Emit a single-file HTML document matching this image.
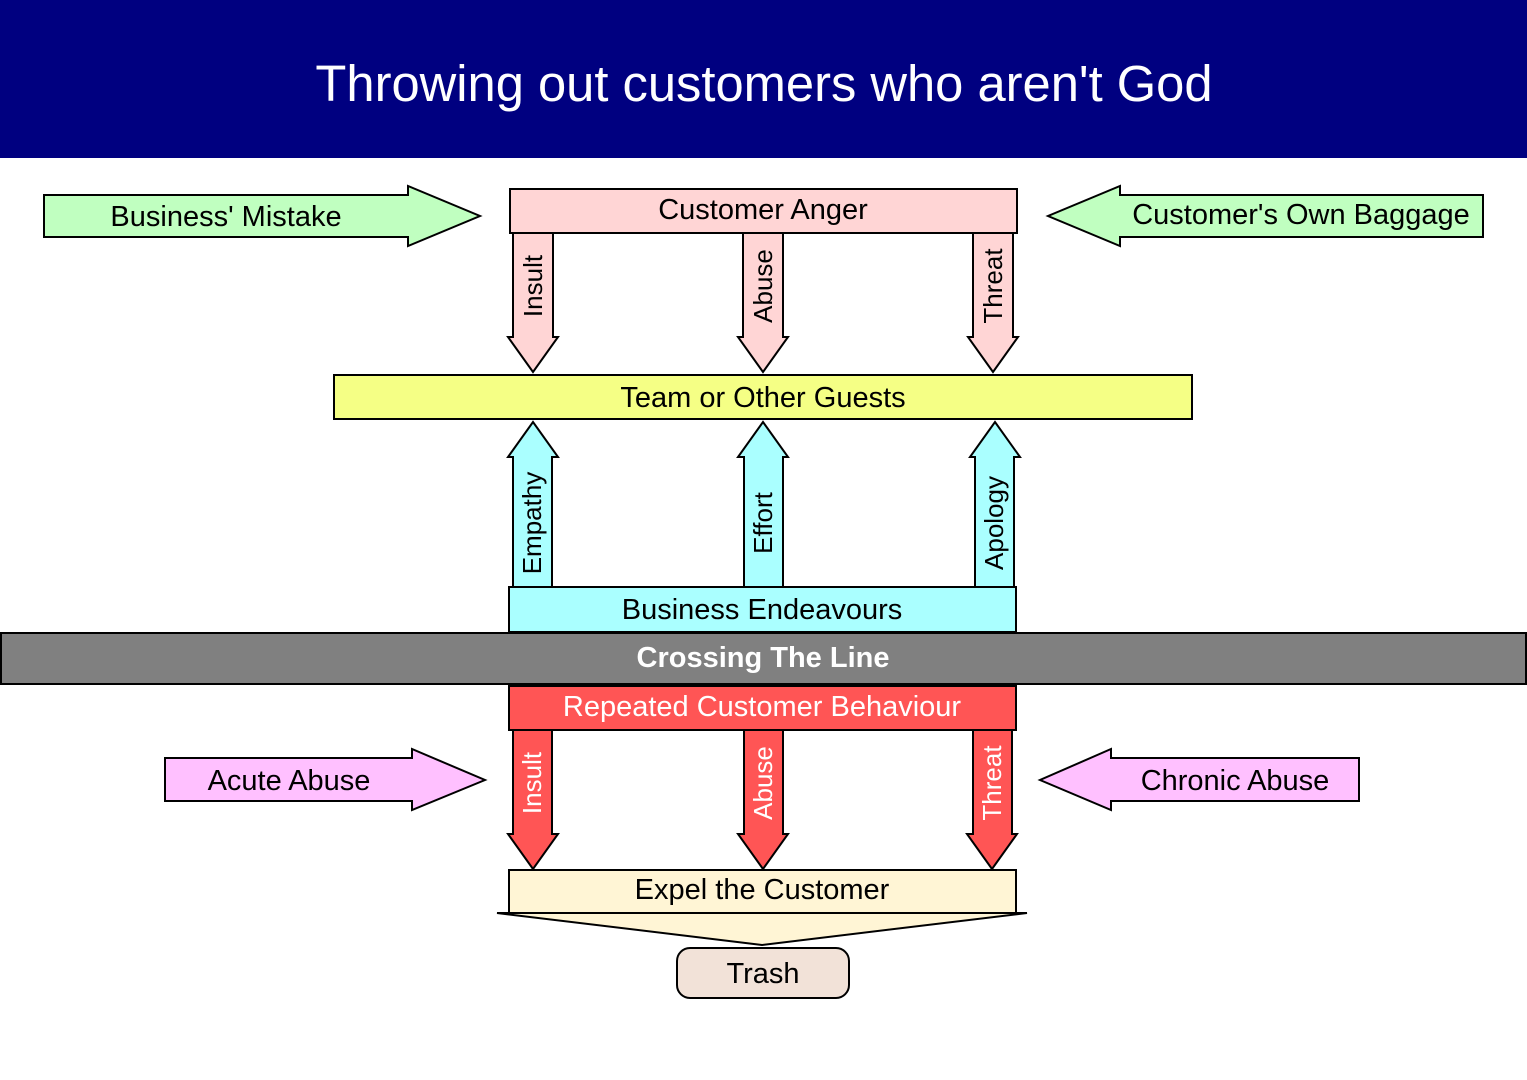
<!DOCTYPE html>
<html><head><meta charset="utf-8"><style>body{margin:0}svg{display:block}text{font-family:"Liberation Sans",sans-serif}</style></head><body>
<svg width="1527" height="1080" viewBox="0 0 1527 1080" xmlns="http://www.w3.org/2000/svg">
<rect width="1527" height="1080" fill="#fff"/>
<rect x="0" y="0" width="1527" height="158" fill="#000080"/>
<text x="764" y="101" font-size="50.7" fill="#fff" text-anchor="middle">Throwing out customers who aren't God</text>
<g stroke="#000" stroke-width="2">
<polygon points="44,195 408,195 408,186 480,216 408,246 408,237 44,237" fill="#c0ffc0"/>
<polygon points="1483,195 1120,195 1120,186 1048,216 1120,246 1120,237 1483,237" fill="#c0ffc0"/>
<polygon points="165,758 412,758 412,749 485,780 412,810 412,801 165,801" fill="#ffc0ff"/>
<polygon points="1359,758 1111,758 1111,749 1040,780 1111,810 1111,801 1359,801" fill="#ffc0ff"/>
<polygon points="513,233 553,233 553,337 558,337 533,372 508,337 513,337" fill="#ffd5d5"/>
<polygon points="743,233 783,233 783,337 788,337 763,372 738,337 743,337" fill="#ffd5d5"/>
<polygon points="973,233 1013,233 1013,337 1018,337 993,372 968,337 973,337" fill="#ffd5d5"/>
<rect x="510" y="189" width="507" height="44" fill="#ffd5d5"/>
<rect x="334" y="375" width="858" height="44" fill="#f5ff85"/>
<polygon points="513,587 552,587 552,457 558,457 533,422 508,457 513,457" fill="#aaffff"/>
<polygon points="744,587 783,587 783,457 788,457 763,422 738,457 744,457" fill="#aaffff"/>
<polygon points="975,587 1014,587 1014,457 1020,457 995,422 970,457 975,457" fill="#aaffff"/>
<rect x="509" y="587" width="507" height="45" fill="#aaffff"/>
<rect x="1" y="633" width="1525" height="51" fill="#808080"/>
<polygon points="513,730 552,730 552,834 558,834 533,869 508,834 513,834" fill="#ff5555"/>
<polygon points="744,730 783,730 783,834 788,834 763,869 738,834 744,834" fill="#ff5555"/>
<polygon points="973,730 1012,730 1012,834 1017,834 992,869 967,834 973,834" fill="#ff5555"/>
<rect x="509" y="686" width="507" height="44" fill="#ff5555"/>
<polygon points="497,913 1027,913 762,945" fill="#fff5d5"/>
<rect x="509" y="870" width="507" height="43" fill="#fff5d5"/>
<rect x="677" y="948" width="172" height="50" rx="13" fill="#f2e2d8"/>
</g>
<g font-size="29" text-anchor="middle" fill="#000">
<text x="226" y="226">Business' Mistake</text>
<text x="1301" y="224">Customer's Own Baggage</text>
<text x="289" y="790">Acute Abuse</text>
<text x="1235" y="790">Chronic Abuse</text>
<text x="763" y="219">Customer Anger</text>
<text x="763" y="407">Team or Other Guests</text>
<text x="762" y="619">Business Endeavours</text>
<text x="762" y="716" fill="#fff">Repeated Customer Behaviour</text>
<text x="763" y="667" fill="#fff" font-weight="bold" font-size="29">Crossing The Line</text>
<text x="762" y="899">Expel the Customer</text>
<text x="763" y="983">Trash</text>
</g>
<g font-size="26" text-anchor="middle">
<text transform="translate(542,286) rotate(-90)">Insult</text>
<text transform="translate(772,286) rotate(-90)">Abuse</text>
<text transform="translate(1002,286) rotate(-90)">Threat</text>
<text transform="translate(541,523) rotate(-90)">Empathy</text>
<text transform="translate(772,523) rotate(-90)">Effort</text>
<text transform="translate(1003,523) rotate(-90)">Apology</text>
<text transform="translate(541,783) rotate(-90)" fill="#fff">Insult</text>
<text transform="translate(772,783) rotate(-90)" fill="#fff">Abuse</text>
<text transform="translate(1001,783) rotate(-90)" fill="#fff">Threat</text>
</g>
</svg>
</body></html>
